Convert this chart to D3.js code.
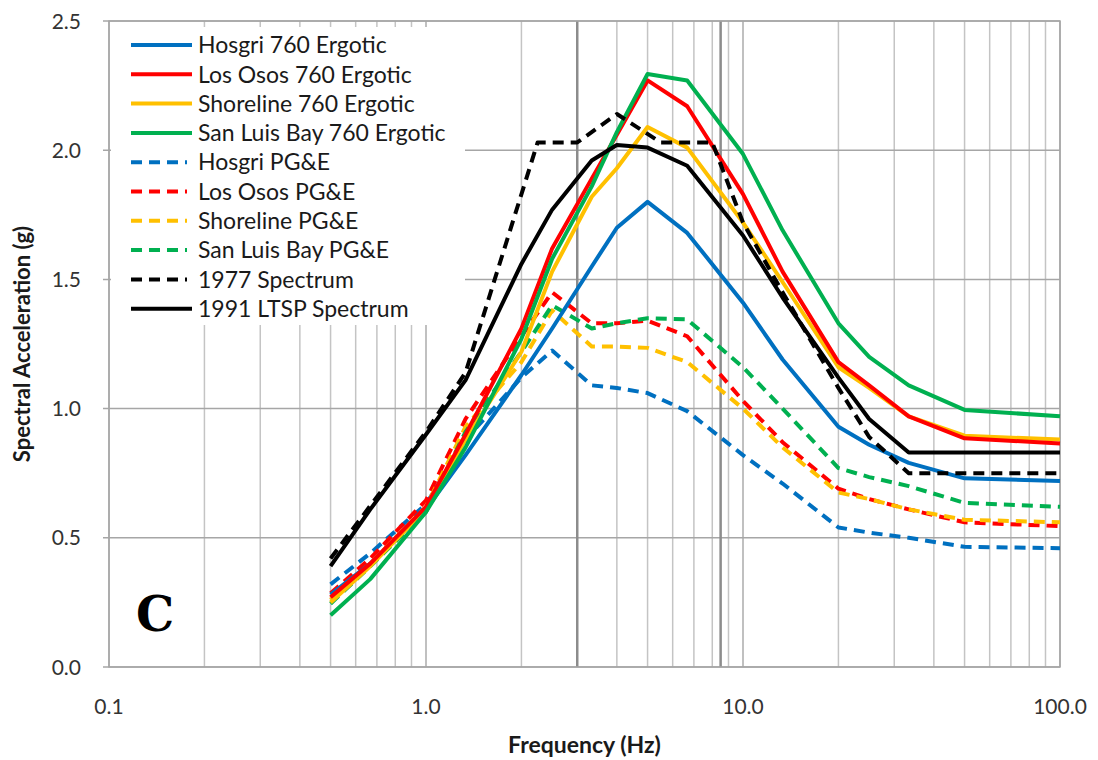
<!DOCTYPE html>
<html>
<head>
<meta charset="utf-8">
<script src="https://cdn.jsdelivr.net/npm/d3@7"></script>
<style>
  body { margin: 0; background: #fff; }
  svg { display: block; font-family: Lato, "Liberation Sans", sans-serif; }
</style>
</head>
<body>
<svg id="chart"></svg>
<script>
// frequencies (Hz) shared by the ergotic, PG&E and LTSP spectra
const freqs = [0.5, 0.667, 1.0, 1.333, 2.0, 2.5, 3.333, 4.0, 5.0, 6.667, 10, 13.33, 20, 25, 33.33, 50, 100];

const hosgri760   = [0.28, 0.40, 0.61, 0.82, 1.13, 1.31, 1.55, 1.70, 1.80, 1.68, 1.41, 1.19, 0.93, 0.86, 0.79, 0.73, 0.72];
const losOsos760  = [0.27, 0.40, 0.62, 0.90, 1.31, 1.62, 1.89, 2.06, 2.27, 2.17, 1.83, 1.53, 1.18, 1.09, 0.97, 0.885, 0.865];
const shoreline760 = [0.25, 0.39, 0.61, 0.88, 1.22, 1.53, 1.82, 1.93, 2.09, 2.01, 1.72, 1.49, 1.16, 1.08, 0.97, 0.895, 0.88];
const sanLuisBay760 = [0.20, 0.34, 0.60, 0.85, 1.27, 1.58, 1.86, 2.07, 2.295, 2.27, 1.985, 1.69, 1.33, 1.20, 1.09, 0.995, 0.97];

const hosgriPGE    = [0.32, 0.44, 0.63, 0.88, 1.12, 1.225, 1.09, 1.08, 1.06, 0.99, 0.82, 0.71, 0.54, 0.52, 0.50, 0.465, 0.46];
const losOsosPGE   = [0.285, 0.42, 0.645, 0.96, 1.28, 1.45, 1.33, 1.33, 1.34, 1.28, 1.03, 0.87, 0.69, 0.65, 0.61, 0.56, 0.545];
const shorelinePGE = [0.26, 0.40, 0.62, 0.93, 1.18, 1.38, 1.24, 1.24, 1.235, 1.18, 1.00, 0.85, 0.675, 0.65, 0.61, 0.57, 0.56];
const sanLuisBayPGE = [0.245, 0.39, 0.60, 0.91, 1.22, 1.40, 1.31, 1.33, 1.35, 1.345, 1.16, 1.00, 0.77, 0.735, 0.70, 0.635, 0.62];

const ltsp1991 = [0.39, 0.61, 0.90, 1.11, 1.56, 1.77, 1.96, 2.02, 2.01, 1.94, 1.67, 1.43, 1.12, 0.96, 0.83, 0.83, 0.83];

// the 1977 spectrum has its own corner frequencies
const freqs1977 = [0.5, 1.0, 1.333, 2.25, 3.0, 4.0, 5.5, 8.0, 10, 13.33, 20, 25, 33.33, 100];
const spec1977  = [0.42, 0.91, 1.14, 2.03, 2.03, 2.14, 2.03, 2.03, 1.72, 1.45, 1.08, 0.89, 0.75, 0.75];

const refFreqs = [3.0, 8.5];
const xTicks = [0.1, 1, 10, 100];
const yTicks = [0, 0.5, 1.0, 1.5, 2.0, 2.5];

const seriesNames = ['Hosgri 760 Ergotic', 'Los Osos 760 Ergotic', 'Shoreline 760 Ergotic', 'San Luis Bay 760 Ergotic',
  'Hosgri PG&E', 'Los Osos PG&E', 'Shoreline PG&E', 'San Luis Bay PG&E', '1977 Spectrum', '1991 LTSP Spectrum'];
const seriesColors = ['#0070C0', '#FF0000', '#FFC000', '#00B050', '#0070C0', '#FF0000', '#FFC000', '#00B050', '#000000', '#000000'];
const seriesDashed = [false, false, false, false, true, true, true, true, true, false];

class SpectrumChart {

  constructor(config, series) {
    this.config = {
      parent: config.parent,
      width: config.width || 1098,
      height: config.height || 760,
      margin: config.margin || {top: 21, right: 38, bottom: 93, left: 109}
    };
    this.series = series;
    this.init();
  }

  init() {
    let self = this;
    let m = self.config.margin;

    self.svg = d3.select(self.config.parent)
      .attr('width', self.config.width)
      .attr('height', self.config.height);

    self.inner_width = self.config.width - m.left - m.right;
    self.inner_height = self.config.height - m.top - m.bottom;

    self.chart = self.svg.append('g')
      .attr('transform', `translate(${m.left}, ${m.top})`);

    self.xscale = d3.scaleLog()
      .domain([0.1, 100])
      .range([0, self.inner_width]);

    self.yscale = d3.scaleLinear()
      .domain([0, 2.5])
      .range([self.inner_height, 0]);

    self.line = d3.line()
      .x(d => self.xscale(d[0]))
      .y(d => self.yscale(d[1]));
  }

  render() {
    let self = this;
    let w = self.inner_width, h = self.inner_height;

    // minor log gridlines
    let minor = [];
    for (let dec = 0.1; dec < 100; dec *= 10)
      for (let k = 1; k <= 10; k++) minor.push(+(dec * k).toPrecision(3));

    self.chart.append('g').selectAll('line')
      .data(minor.filter(v => !xTicks.includes(v)))
      .join('line')
      .attr('x1', d => self.xscale(d)).attr('x2', d => self.xscale(d))
      .attr('y1', 0).attr('y2', h)
      .attr('stroke', '#c4c4c4').attr('stroke-width', 1.5);

    self.chart.append('g').selectAll('line')
      .data(xTicks)
      .join('line')
      .attr('x1', d => self.xscale(d)).attr('x2', d => self.xscale(d))
      .attr('y1', 0).attr('y2', h)
      .attr('stroke', '#ababab').attr('stroke-width', 1.5);

    self.chart.append('g').selectAll('line')
      .data(yTicks)
      .join('line')
      .attr('x1', -6).attr('x2', w)
      .attr('y1', d => self.yscale(d)).attr('y2', d => self.yscale(d))
      .attr('stroke', '#a6a6a6').attr('stroke-width', 1.5);

    // reference frequencies
    self.chart.append('g').selectAll('line')
      .data(refFreqs)
      .join('line')
      .attr('x1', d => self.xscale(d)).attr('x2', d => self.xscale(d))
      .attr('y1', 0).attr('y2', h)
      .attr('stroke', '#8c8c8c').attr('stroke-width', 2.5);

    // frame
    self.chart.append('rect')
      .attr('width', w).attr('height', h)
      .attr('fill', 'none').attr('stroke', '#a6a6a6').attr('stroke-width', 1.5);

    // legend background covers the gridlines
    let lg = self.chart.append('g').attr('transform', 'translate(2, 6)');
    lg.append('rect')
      .attr('width', 354).attr('height', 298)
      .attr('fill', '#fff');

    // series
    self.chart.append('g').selectAll('path')
      .data(self.series)
      .join('path')
      .attr('d', s => self.line(s.points))
      .attr('fill', 'none')
      .attr('stroke', s => s.color)
      .attr('stroke-width', 4)
      .attr('stroke-linejoin', 'round')
      .attr('stroke-dasharray', s => s.dashed ? '11,7' : null);

    // legend entries
    let item = lg.selectAll('g.item')
      .data(self.series.slice().sort((a, b) => a.order - b.order))
      .join('g')
      .attr('class', 'item')
      .attr('transform', (d, i) => `translate(0, ${18 + i * 29.3})`);

    item.append('line')
      .attr('x1', 20).attr('x2', d => d.dashed ? 76 : 81)
      .attr('y1', 0).attr('y2', 0)
      .attr('stroke', d => d.color)
      .attr('stroke-width', 4)
      .attr('stroke-dasharray', d => d.dashed ? '11,7' : null);

    item.append('text')
      .attr('x', 87).attr('y', 0)
      .attr('dy', '0.36em')
      .attr('font-size', 23)
      .attr('fill', '#1a1a1a')
      .text(d => d.name);

    // tick labels
    self.chart.append('g').selectAll('text')
      .data(yTicks)
      .join('text')
      .attr('x', -28).attr('y', d => self.yscale(d))
      .attr('dy', '0.36em')
      .attr('text-anchor', 'end')
      .attr('font-size', 21)
      .attr('fill', '#333')
      .text(d => d.toFixed(1));

    self.chart.append('g').selectAll('text')
      .data(xTicks)
      .join('text')
      .attr('x', d => self.xscale(d)).attr('y', h + 39)
      .attr('dy', '0.36em')
      .attr('text-anchor', 'middle')
      .attr('font-size', 21)
      .attr('fill', '#333')
      .text(d => d.toFixed(1));

    // axis titles
    self.svg.append('text')
      .attr('x', self.config.margin.left + w / 2).attr('y', 745)
      .attr('dy', '0.36em')
      .attr('text-anchor', 'middle')
      .attr('font-size', 23).attr('font-weight', 'bold')
      .attr('fill', '#1a1a1a')
      .text('Frequency (Hz)');

    self.svg.append('text')
      .attr('transform', `translate(22, ${self.config.margin.top + h / 2}) rotate(-90)`)
      .attr('dy', '0.36em')
      .attr('text-anchor', 'middle')
      .attr('font-size', 22).attr('font-weight', 'bold')
      .attr('fill', '#1a1a1a')
      .text('Spectral Acceleration (g)');

    // panel letter
    self.svg.append('text')
      .attr('x', 155).attr('y', 631)
      .attr('text-anchor', 'middle')
      .attr('font-family', '"DejaVu Serif", "Liberation Serif", serif')
      .attr('font-size', 48).attr('font-weight', 'bold')
      .attr('fill', '#000')
      .text('C');
  }
}

const seriesValues = [hosgri760, losOsos760, shoreline760, sanLuisBay760,
  hosgriPGE, losOsosPGE, shorelinePGE, sanLuisBayPGE, spec1977, ltsp1991];

let series = seriesNames.map((name, i) => ({
  name: name,
  order: i,
  color: seriesColors[i],
  dashed: seriesDashed[i],
  points: (name === '1977 Spectrum' ? freqs1977 : freqs).map((f, j) => [f, seriesValues[i][j]])
}));

// draw order: PG&E dashed first, then ergotic, black on top of coloured
let drawOrder = [4, 5, 6, 7, 0, 2, 1, 3, 9, 8];
let chart = new SpectrumChart({parent: '#chart', width: 1098, height: 760}, drawOrder.map(i => series[i]));
chart.render();
</script>
</body>
</html>
